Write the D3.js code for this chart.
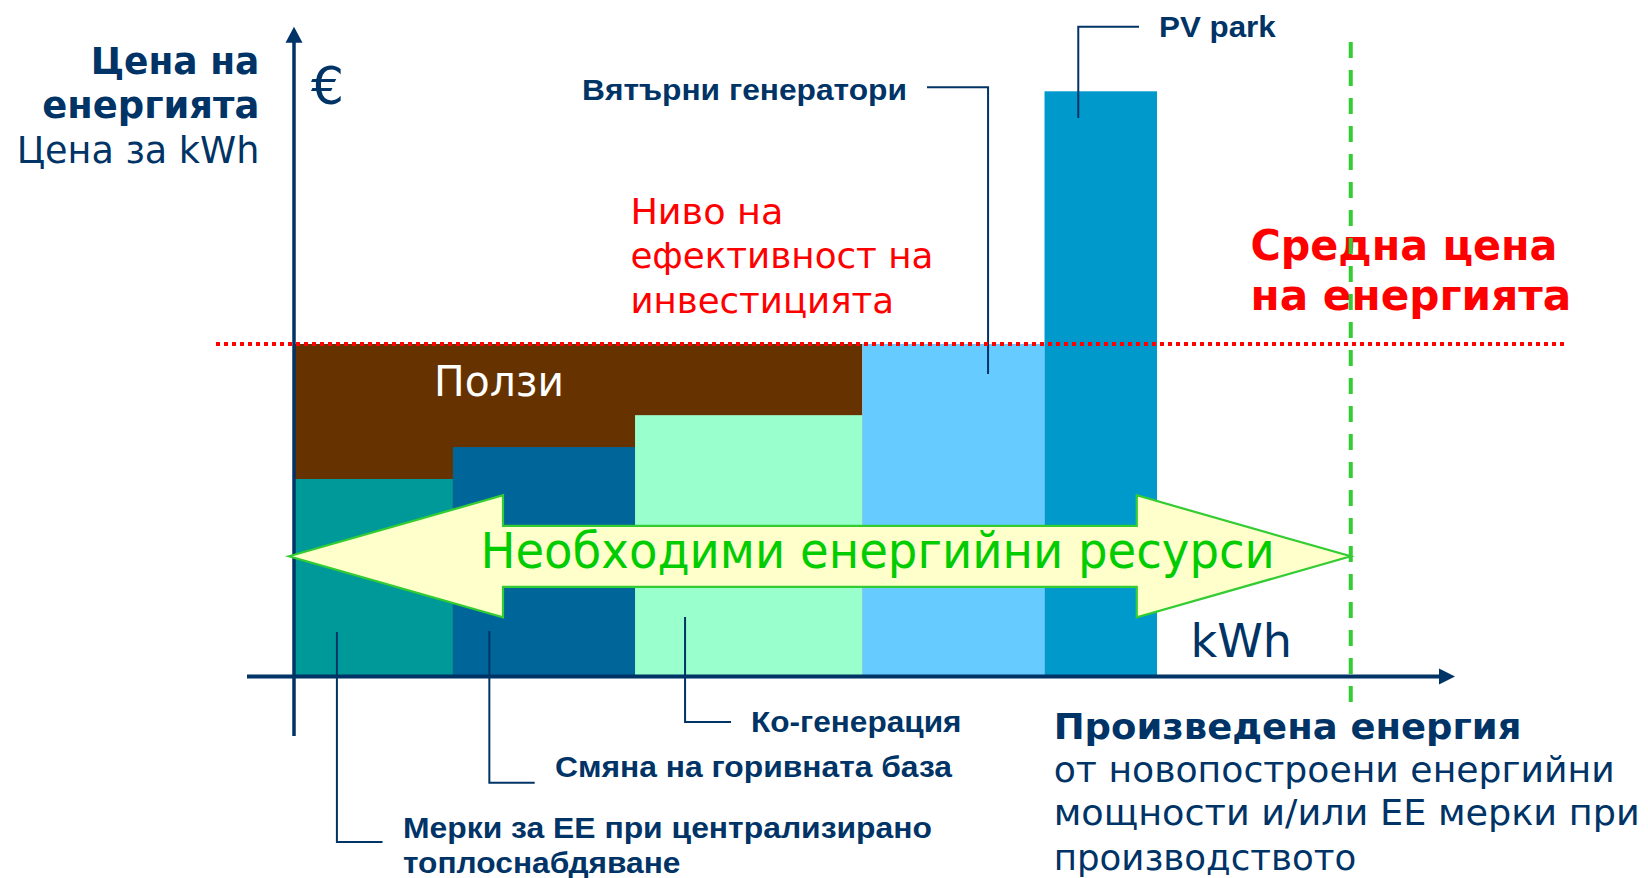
<!DOCTYPE html>
<html>
<head>
<meta charset="utf-8">
<script src="https://cdn.jsdelivr.net/npm/d3@7"></script>
<style>
  html, body { margin: 0; padding: 0; background: #ffffff; }
  svg { display: block; }
</style>
</head>
<body>
<script>
// ---------- DATA ----------
const categories = ["Мерки за ЕЕ при централизирано топлоснабдяване", "Смяна на горивната база", "Ко-генерация", "Вятърни генератори", "PV park"];
const energyAmounts = [137, 157, 196, 157, 97];          // relative kWh width of each block
const prices = [59.4, 69, 78.6, 100, 176];               // relative price per kWh
const efficiencyLevel = 100;                              // "Ниво на ефективност на инвестицията"
const requiredEnergy = 911;                               // "Необходими енергийни ресурси"
const axisMaxEnergy = 1000;
const axisMaxPrice = 195.4;
const benefitsLabel = "Ползи";
const arrowLabel = "Необходими енергийни ресурси";

// ---------- STYLE / LAYOUT ----------
const W = 1648, H = 878;
const navy = "#003366";
const barColors = ["#009999", "#006699", "#99FFCC", "#66CCFF", "#0099CC"];
const brown = "#663300";

const svg = d3.select("body").append("svg").attr("width", W).attr("height", H);

const x = d3.scaleLinear().domain([0, axisMaxEnergy]).range([294, 1454]);
const y = d3.scaleLinear().domain([0, 100]).range([676.5, 344]);

// cumulative block positions
let acc = 0;
const blocks = energyAmounts.map((w, i) => {
  const b = { name: categories[i], x0: acc, x1: acc + w, price: prices[i], color: barColors[i] };
  acc += w;
  return b;
});

// brown "benefits" area: from origin to end of 3rd block up to efficiency level
svg.append("rect")
  .attr("x", x(0)).attr("y", y(efficiencyLevel))
  .attr("width", x(blocks[2].x1) - x(0))
  .attr("height", y(0) - y(efficiencyLevel))
  .attr("fill", brown);

svg.selectAll("rect.bar").data(blocks).enter().append("rect")
  .attr("class", "bar")
  .attr("x", d => x(d.x0))
  .attr("y", d => y(d.price))
  .attr("width", d => x(d.x1) - x(d.x0))
  .attr("height", d => y(0) - y(d.price))
  .attr("fill", d => d.color);

// text helper
function addText(str, px, py, o) {
  const t = svg.append("text")
    .attr("x", px).attr("y", py)
    .attr("font-family", o.family || "DejaVu Sans, Verdana, sans-serif")
    .attr("font-size", o.size)
    .attr("font-weight", o.weight || "normal")
    .attr("fill", o.fill || navy)
    .attr("text-anchor", o.anchor || "start")
    .text(str);
  if (o.width) t.attr("textLength", o.width).attr("lengthAdjust", "spacingAndGlyphs");
  return t;
}

// Benefits label
addText(benefitsLabel, 434, 396, { size: 42, fill: "#ffffff", width: 130 });

// leader lines & bar labels
const labelFont = "Liberation Sans, Arial, sans-serif";
const leaders = [
  { frac: 0.27, startPrice: 13.4, elbowY: 842, endX: 382.5, lines: ["Мерки за ЕЕ при централизирано", "топлоснабдяване"], lx: 403, ly: [838, 873], widths: [529, 277.5], anchor: "start" },
  { frac: 0.20, startPrice: 13.7, elbowY: 782.7, endX: 534.7, lines: ["Смяна на горивната база"], lx: 555, ly: [777], widths: [397], anchor: "start" },
  { frac: 0.22, startPrice: 17.9, elbowY: 722, endX: 731, lines: ["Ко-генерация"], lx: 751, ly: [732], widths: [210.5], anchor: "start" },
  { frac: 0.69, startPrice: 91, elbowY: 87.3, endX: 927, lines: ["Вятърни генератори"], lx: 907, ly: [100], widths: [325], anchor: "end" },
  { frac: 0.30, startPrice: 168, elbowY: 26.7, endX: 1139, lines: ["PV park"], lx: 1159, ly: [36.7], widths: [116.7], anchor: "start" }
];
leaders.forEach((l, i) => {
  const b = blocks[i];
  const ax = x(b.x0 + l.frac * (b.x1 - b.x0));
  svg.append("path")
    .attr("d", d3.line()([[ax, y(l.startPrice)], [ax, l.elbowY], [l.endX, l.elbowY]]))
    .attr("fill", "none").attr("stroke", navy).attr("stroke-width", 2);
  l.lines.forEach((s, k) => {
    addText(s, l.lx, l.ly[k], { size: 29, weight: "bold", family: labelFont, anchor: l.anchor, width: l.widths[k] });
  });
});

// axes
svg.append("line")
  .attr("x1", 247).attr("x2", x(axisMaxEnergy) - 14)
  .attr("y1", y(0)).attr("y2", y(0))
  .attr("stroke", navy).attr("stroke-width", 4);
svg.append("path")
  .attr("d", d3.line()([[x(axisMaxEnergy) - 15, y(0) - 8], [x(axisMaxEnergy) + 1, y(0)], [x(axisMaxEnergy) - 15, y(0) + 8]]) + "Z")
  .attr("fill", navy);
const yTop = d3.scaleLinear().domain([0, 100]).range([676.5, 344])(axisMaxPrice);
svg.append("line")
  .attr("x1", x(0)).attr("x2", x(0))
  .attr("y1", 736).attr("y2", yTop + 14)
  .attr("stroke", navy).attr("stroke-width", 3.5);
svg.append("path")
  .attr("d", d3.line()([[x(0) - 8.5, yTop + 16], [x(0), yTop], [x(0) + 8.5, yTop + 16]]) + "Z")
  .attr("fill", navy);

// double arrow "required energy resources"
const aL = x(0) - 5, aR = x(requiredEnergy), aY = 556.3;
const headLen = 214, headHalf = 61, shaftHalf = 30.5;
const arrowPts = [
  [aL, aY],
  [aL + headLen, aY - headHalf],
  [aL + headLen, aY - shaftHalf],
  [aR - headLen, aY - shaftHalf],
  [aR - headLen, aY - headHalf],
  [aR, aY],
  [aR - headLen, aY + headHalf],
  [aR - headLen, aY + shaftHalf],
  [aL + headLen, aY + shaftHalf],
  [aL + headLen, aY + headHalf]
];
svg.append("path")
  .attr("d", d3.line()(arrowPts) + "Z")
  .attr("fill", "#FFFFCC").attr("stroke", "#33CC33").attr("stroke-width", 2.2)
  .attr("stroke-linejoin", "miter");
addText(arrowLabel, 480.4, 568.3, { size: 49, fill: "#00CC00", width: 794.5 });

// efficiency level dotted line
svg.append("line")
  .attr("x1", 216).attr("x2", 1566)
  .attr("y1", y(efficiencyLevel)).attr("y2", y(efficiencyLevel))
  .attr("stroke", "#FF0000").attr("stroke-width", 4).attr("stroke-dasharray", "4,4");

// Y axis title
addText("Цена на", 259.3, 74, { size: 37, weight: "bold", anchor: "end", width: 168.6 });
addText("енергията", 259.3, 118.3, { size: 37, weight: "bold", anchor: "end", width: 217 });
addText("Цена за kWh", 259.3, 163.3, { size: 36.6, anchor: "end", width: 242.6 });
addText("€", 311, 104, { size: 52 });

// efficiency text
addText("Ниво на", 630.4, 224, { size: 35, fill: "#FF0000", width: 153 });
addText("ефективност на", 630.4, 268.3, { size: 35, fill: "#FF0000", width: 303 });
addText("инвестицията", 630.4, 313.3, { size: 35, fill: "#FF0000", width: 263.7 });

// average price text
addText("Средна цена", 1250.5, 260, { size: 42, weight: "bold", fill: "#FF0000", width: 307 });
addText("на енергията", 1250.5, 310, { size: 42, weight: "bold", fill: "#FF0000", width: 320.7 });

// kWh
addText("kWh", 1190.5, 657, { size: 47, width: 101.5 });

// X axis title
addText("Произведена енергия", 1053.7, 739, { size: 35, weight: "bold", width: 467.8 });
addText("от новопостроени енергийни", 1053.7, 781.7, { size: 35, width: 561 });
addText("мощности и/или ЕЕ мерки при", 1053.7, 825, { size: 35, width: 586 });
addText("производството", 1053.7, 870, { size: 35, width: 302.5 });

// required energy dashed line
svg.append("line")
  .attr("x1", x(requiredEnergy)).attr("x2", x(requiredEnergy))
  .attr("y1", 42).attr("y2", 702)
  .attr("stroke", "#33CC33").attr("stroke-width", 4).attr("stroke-dasharray", "16,12");
</script>
</body>
</html>
